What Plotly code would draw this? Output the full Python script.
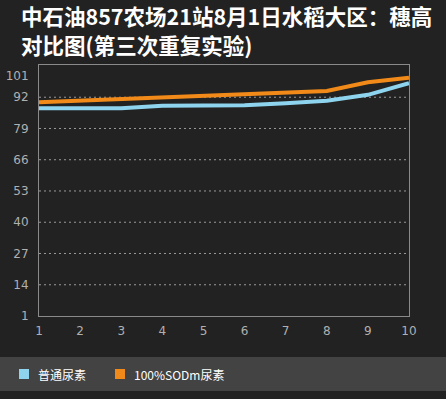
import plotly.graph_objects as go

x_vals = [1, 2, 3, 4, 5, 6, 7, 8, 9, 10]
urea = [87.4, 87.4, 87.4, 88.5, 88.6, 88.7, 89.5, 90.5, 93.0, 97.8]
sodm = [89.9, 90.6, 91.3, 91.9, 92.5, 93.4, 94.2, 94.6, 98.2, 100.1]
y_ticks = [1, 14, 27, 40, 53, 66, 79, 92, 101]
grid_vals = [14, 27, 40, 53, 66, 79, 92]
names = ["普通尿素", "100%SODm尿素"]
colors = ["#8ed4ee", "#f18a18"]

title_lines = ["中石油857农场21站8月1日水稻大区：穗高", "对比图(第三次重复实验)"]

# plot area in pixels: x 39..409, y 65..316
PL, PR, PT, PB = 39, 409, 65, 316
def px(x):
    return (x - PL) / (PR - PL)
def py(y):
    return (PB - y) / (PB - PT)

fig = go.Figure()
for ys, nm, c in zip([urea, sodm], names, colors):
    fig.add_trace(go.Scatter(x=x_vals, y=ys, mode="lines", line=dict(color=c, width=4),
                             name=nm, showlegend=False, hoverinfo="skip"))

shapes = []
for g in grid_vals:
    shapes.append(dict(type="line", xref="paper", x0=0, x1=1, yref="y", y0=g, y1=g,
                       line=dict(color="#9a9a9a", width=1, dash="2px,3px"), layer="below"))
# legend band
shapes.append(dict(type="rect", xref="paper", yref="paper",
                   x0=px(0), x1=px(446), y0=py(391), y1=py(357),
                   fillcolor="#434343", line=dict(width=0), layer="below"))

annotations = []
for i, t in enumerate(title_lines):
    annotations.append(dict(text=t, xref="paper", yref="paper", x=px(20), xanchor="left",
                            y=py(16 + 28 * i), yanchor="middle", align="left",
                            showarrow=False, borderpad=0,
                            font=dict(family="Noto Sans CJK SC", size=21.5, color="#ffffff",
                                      weight="bold")))

# manual legend
leg_sq_x = [19, 115]
leg_tx_x = [36, 132]
for nm, c, sx, tx in zip(names, colors, leg_sq_x, leg_tx_x):
    shapes.append(dict(type="rect", xref="paper", yref="paper",
                       x0=px(sx), x1=px(sx + 10), y0=py(379), y1=py(369),
                       fillcolor=c, line=dict(width=0)))
    annotations.append(dict(text=nm, xref="paper", yref="paper", x=px(tx), xanchor="left",
                            y=py(374), yanchor="middle", showarrow=False,
                            font=dict(family="Noto Sans CJK SC", size=12, color="#ffffff")))

fig.update_layout(
    width=446, height=399,
    margin=dict(l=PL, r=446 - PR, t=PT, b=399 - PB, autoexpand=False),
    paper_bgcolor="#222222", plot_bgcolor="#222222",
    font=dict(family="Noto Sans CJK SC, sans-serif", color="#b0b0b0", size=12),
    shapes=shapes,
    annotations=annotations,
    showlegend=False,
    xaxis=dict(range=[1, 10], tickvals=x_vals, ticktext=[str(v) for v in x_vals],
               showgrid=False, zeroline=False, showline=True, linecolor="#8a8a8a",
               linewidth=1, mirror=True, ticks="", automargin=False, ticklabelstandoff=4,
               tickfont=dict(color="#b0b0b0", size=12, family="DejaVu Sans")),
    yaxis=dict(range=[1, 105.4], tickvals=y_ticks, ticktext=[str(v) for v in y_ticks],
               showgrid=False, zeroline=False, showline=True, linecolor="#8a8a8a",
               linewidth=1, mirror=True, ticks="", ticklabelstandoff=7, automargin=False,
               tickfont=dict(color="#b0b0b0", size=12, family="DejaVu Sans")),
)

fig.write_html("out.html", config={"displayModeBar": False},
               post_script="document.body.style.margin='0';document.body.style.background='#222222';")
